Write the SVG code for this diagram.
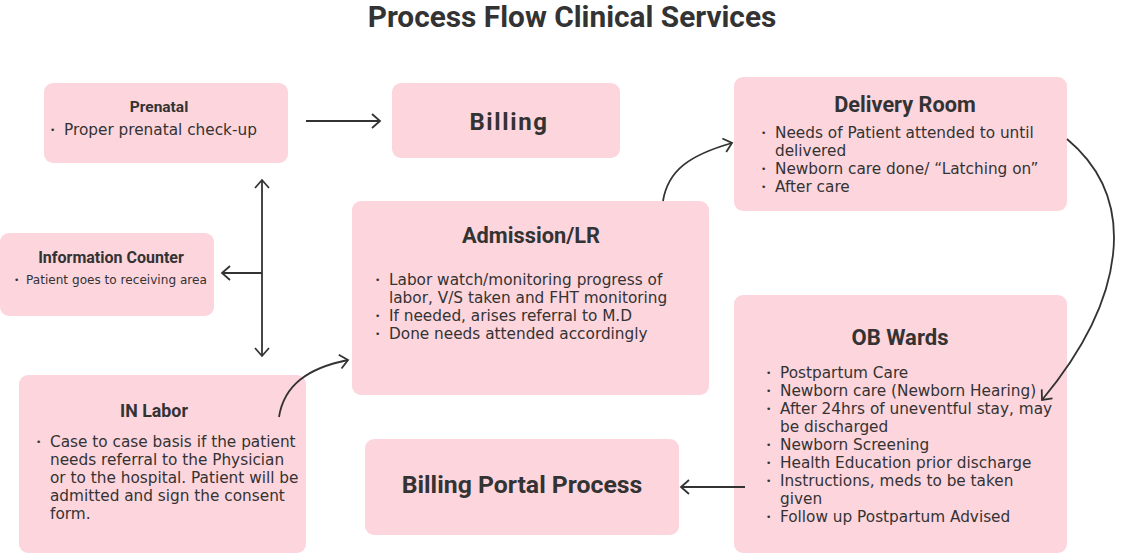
<svg xmlns="http://www.w3.org/2000/svg" width="1125" height="554" viewBox="0 0 1125 554">
<style>
.box{fill:#FDD5DD}
.h{font-family:Roboto,"Liberation Sans",sans-serif;font-weight:bold;fill:#333;text-anchor:middle}
.b{font-family:"DejaVu Sans","Liberation Sans",sans-serif;fill:#333;font-size:15.3px}
.s{font-family:"DejaVu Sans","Liberation Sans",sans-serif;fill:#333;font-size:12.1px}
.d{font-family:"DejaVu Sans","Liberation Sans",sans-serif;fill:#333;font-size:9px}
.c{fill:none;stroke:#333;stroke-width:1.8}
</style>
<defs>
<marker id="ah" markerUnits="userSpaceOnUse" markerWidth="14" markerHeight="16" refX="11" refY="8" orient="auto-start-reverse" viewBox="0 0 14 16">
<path d="M3,1 L11,8 L3,15" fill="none" stroke="#333" stroke-width="1.8"/>
</marker>
</defs>
<rect width="1125" height="554" fill="#fff"/>
<text class="h" x="572" y="27" font-size="29.8">Process Flow Clinical Services</text>

<g id="prenatal">
<rect class="box" x="44" y="83" width="244" height="80" rx="9"/>
<text class="h" x="159" y="112" font-size="15.5">Prenatal</text>
<text class="d" x="50" y="133">•</text>
<text class="b" x="64" y="135">Proper prenatal check-up</text>
</g>

<g id="billing">
<rect class="box" x="392" y="83" width="228" height="75" rx="9"/>
<text class="h" x="509" y="130" font-size="24" letter-spacing="1.6">Billing</text>
</g>

<g id="delivery">
<rect class="box" x="734" y="77" width="333" height="134" rx="9"/>
<text class="h" x="905" y="112" font-size="21.7">Delivery Room</text>
<text class="d" x="761" y="136">•</text>
<text class="b" x="775" y="138">Needs of Patient attended to until</text>
<text class="b" x="775" y="156">delivered</text>
<text class="d" x="761" y="172">•</text>
<text class="b" x="775" y="174">Newborn care done/ “Latching on”</text>
<text class="d" x="761" y="190">•</text>
<text class="b" x="775" y="192">After care</text>
</g>

<g id="info">
<rect class="box" x="0" y="233" width="214" height="83" rx="9"/>
<text class="h" x="111" y="263" font-size="16">Information Counter</text>
<text class="d" x="14" y="283" font-size="7">•</text>
<text class="s" x="26" y="284">Patient goes to receiving area</text>
</g>

<g id="admission">
<rect class="box" x="352" y="201" width="357" height="194" rx="9"/>
<text class="h" x="531" y="243" font-size="21.8">Admission/LR</text>
<text class="d" x="375" y="283">•</text>
<text class="b" x="389" y="285">Labor watch/monitoring progress of</text>
<text class="b" x="389" y="303">labor, V/S taken and FHT monitoring</text>
<text class="d" x="375" y="319">•</text>
<text class="b" x="389" y="321">If needed, arises referral to M.D</text>
<text class="d" x="375" y="337">•</text>
<text class="b" x="389" y="339">Done needs attended accordingly</text>
</g>

<g id="inlabor">
<rect class="box" x="19" y="375" width="287" height="178" rx="9"/>
<text class="h" x="154" y="417" font-size="17.8">IN Labor</text>
<text class="d" x="36" y="445">•</text>
<text class="b" x="50" y="447">Case to case basis if the patient</text>
<text class="b" x="50" y="465">needs referral to the Physician</text>
<text class="b" x="50" y="483">or to the hospital. Patient will be</text>
<text class="b" x="50" y="501">admitted and sign the consent</text>
<text class="b" x="50" y="519">form.</text>
</g>

<g id="obwards">
<rect class="box" x="734" y="295" width="333" height="258" rx="9"/>
<text class="h" x="900" y="345" font-size="22">OB Wards</text>
<text class="d" x="766" y="376">•</text>
<text class="b" x="780" y="378">Postpartum Care</text>
<text class="d" x="766" y="394">•</text>
<text class="b" x="780" y="396">Newborn care (Newborn Hearing)</text>
<text class="d" x="766" y="412">•</text>
<text class="b" x="780" y="414">After 24hrs of uneventful stay, may</text>
<text class="b" x="780" y="432">be discharged</text>
<text class="d" x="766" y="448">•</text>
<text class="b" x="780" y="450">Newborn Screening</text>
<text class="d" x="766" y="466">•</text>
<text class="b" x="780" y="468">Health Education prior discharge</text>
<text class="d" x="766" y="484">•</text>
<text class="b" x="780" y="486">Instructions, meds to be taken</text>
<text class="b" x="780" y="504">given</text>
<text class="d" x="766" y="520">•</text>
<text class="b" x="780" y="522">Follow up Postpartum Advised</text>
</g>

<g id="billingportal">
<rect class="box" x="365" y="439" width="314" height="96" rx="9"/>
<text class="h" x="522" y="493" font-size="24.8">Billing Portal Process</text>
</g>

<g id="connectors">
<path class="c" d="M306,121 L380,121" marker-end="url(#ah)"/>
<path class="c" d="M262,180 L262,356" marker-start="url(#ah)" marker-end="url(#ah)"/>
<path class="c" d="M262,273 L222,273" marker-end="url(#ah)"/>
<path class="c" d="M279,417 C284,385 308,368 348,360" marker-end="url(#ah)"/>
<path class="c" d="M663,201 C668,170 690,155 732,143" marker-end="url(#ah)"/>
<path class="c" d="M1067,139 C1140,200 1125,300 1042,400" marker-end="url(#ah)"/>
<path class="c" d="M745,487 L681,487" marker-end="url(#ah)"/>
</g>
</svg>
